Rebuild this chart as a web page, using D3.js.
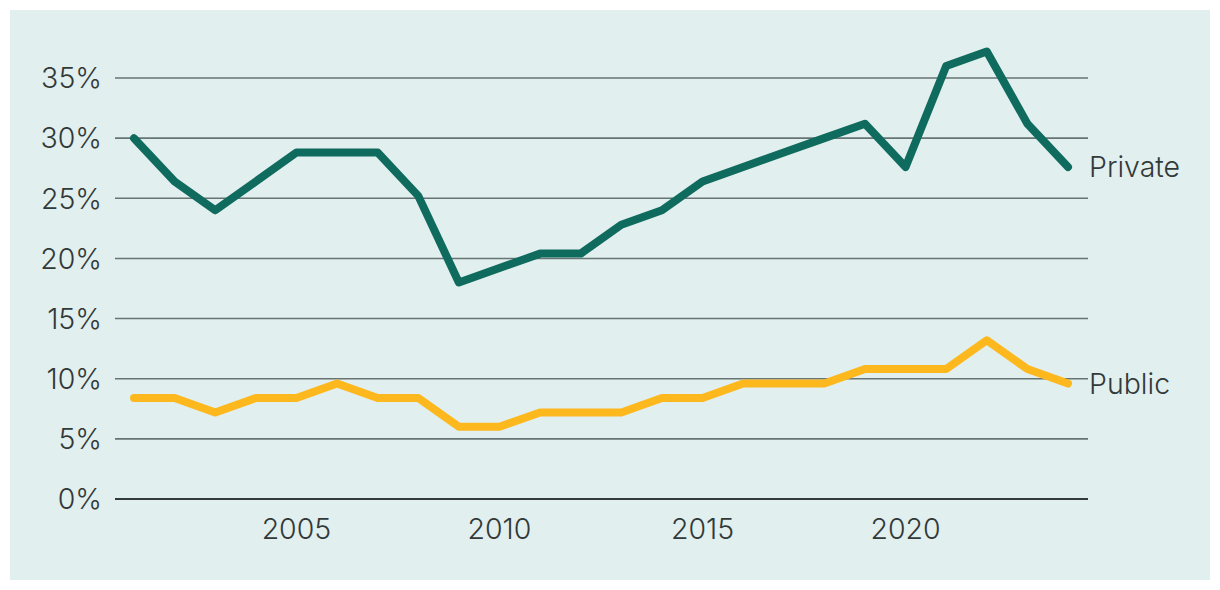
<!DOCTYPE html>
<html>
<head>
<meta charset="utf-8">
<script src="https://cdn.jsdelivr.net/npm/d3@7"></script>
<style>
  body { margin: 0; background: #fff; }
  svg text { font-family: "Inter", "Open Sans", sans-serif; fill: #323a39; }
</style>
</head>
<body>
<script>
// data (percent)
var years = [2001,2002,2003,2004,2005,2006,2007,2008,2009,2010,2011,2012,2013,2014,2015,2016,2017,2018,2019,2020,2021,2022,2023,2024];
var privateVals = [30.0,26.4,24.0,26.4,28.8,28.8,28.8,25.2,18.0,19.2,20.4,20.4,22.8,24.0,26.4,27.6,28.8,30.0,31.2,27.6,36.0,37.2,31.2,27.6];
var publicVals = [8.4,8.4,7.2,8.4,8.4,9.6,8.4,8.4,6.0,6.0,7.2,7.2,7.2,8.4,8.4,9.6,9.6,9.6,10.8,10.8,10.8,13.2,10.8,9.6];
var yTicks = [0,5,10,15,20,25,30,35];
var xTicks = [2005,2010,2015,2020];
var seriesNames = ["Private","Public"];
var seriesColors = ["#0f6b5e","#fdb81e"];

var width = 1220, height = 590;

var svg = d3.select('body').append('svg').attr('width', width).attr('height', height);

// panel background
svg.append('rect').attr('x', 10).attr('y', 10).attr('width', 1200).attr('height', 570).attr('fill', '#e2efef');

var x = d3.scaleLinear().domain([2001, 2024]).range([134, 1068]);
var y = d3.scaleLinear().domain([0, 35]).range([499, 78]);

// gridlines
svg.selectAll('.grid')
  .data(yTicks)
  .enter()
  .append('line')
  .attr('x1', 115).attr('x2', 1088)
  .attr('y1', function(d){ return y(d); })
  .attr('y2', function(d){ return y(d); })
  .attr('stroke', function(d){ return d === 0 ? '#333b3a' : '#667473'; })
  .attr('stroke-width', function(d){ return d === 0 ? 2 : 1.6; });

// y labels
svg.selectAll('.ylab')
  .data(yTicks)
  .enter()
  .append('text')
  .attr('x', 102)
  .attr('y', function(d){ return y(d); })
  .attr('dy', '0.36em')
  .attr('text-anchor', 'end')
  .style('font-size', '28.5px')
  .style('font-weight', 300)
  .text(function(d){ return d + '%'; });

// x labels
svg.selectAll('.xlab')
  .data(xTicks)
  .enter()
  .append('text')
  .attr('x', function(d){ return x(d); })
  .attr('y', 529)
  .attr('dy', '0.36em')
  .attr('text-anchor', 'middle')
  .style('font-size', '28.5px')
  .style('font-weight', 300)
  .text(function(d){ return d; });

var line = d3.line()
  .x(function(d, i){ return x(years[i]); })
  .y(function(d){ return y(d); });

[privateVals, publicVals].forEach(function(vals, k) {
  svg.append('path')
    .datum(vals)
    .attr('d', line)
    .attr('fill', 'none')
    .attr('stroke', seriesColors[k])
    .attr('stroke-width', 8)
    .attr('stroke-linejoin', 'round')
    .attr('stroke-linecap', 'round');

  svg.append('text')
    .attr('x', 1089)
    .attr('y', y(vals[vals.length - 1]))
    .attr('dy', '0.36em')
    .style('font-size', '28.5px')
    .style('font-weight', 300)
    .text(seriesNames[k]);
});
</script>
</body>
</html>
